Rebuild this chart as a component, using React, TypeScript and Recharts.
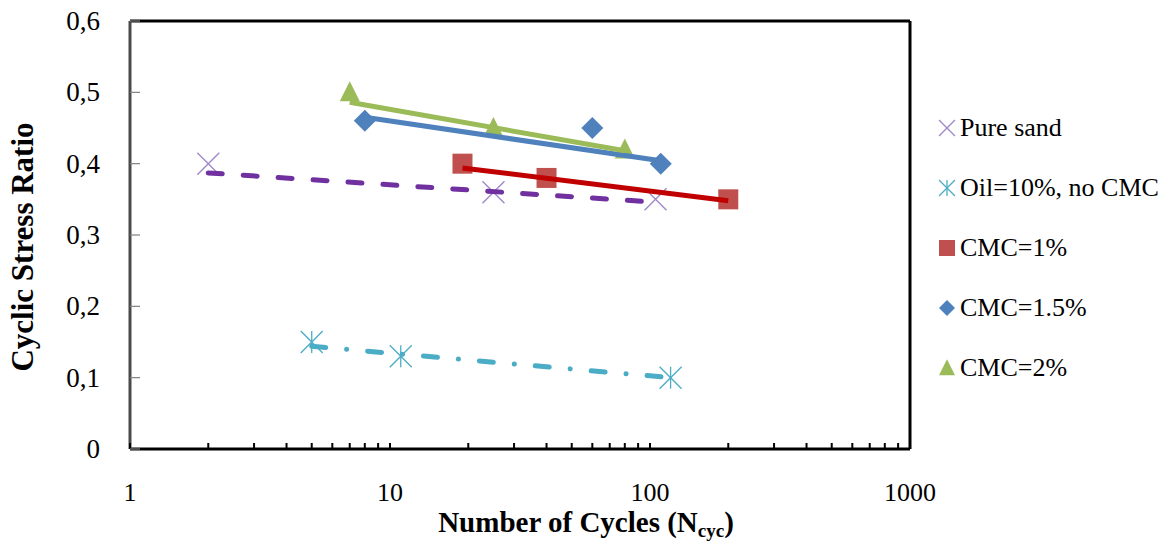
import React from 'react';
import { ScatterChart, Scatter, XAxis, YAxis, ReferenceLine, Label } from 'recharts';

const pureSand = [
  { x: 2, y: 0.4 },
  { x: 25, y: 0.36 },
  { x: 105, y: 0.35 },
];
const oil10 = [
  { x: 5, y: 0.15 },
  { x: 11, y: 0.13 },
  { x: 120, y: 0.1 },
];
const cmc1 = [
  { x: 19, y: 0.4 },
  { x: 40, y: 0.38 },
  { x: 200, y: 0.35 },
];
const cmc15 = [
  { x: 8, y: 0.46 },
  { x: 60, y: 0.45 },
  { x: 110, y: 0.4 },
];
const cmc2 = [
  { x: 7, y: 0.5 },
  { x: 25, y: 0.45 },
  { x: 80, y: 0.42 },
];

// trend line end points
const pureSandTrend = [
  { x: 2, y: 0.387 },
  { x: 105, y: 0.346 },
];
const oil10Trend = [
  { x: 5, y: 0.144 },
  { x: 120, y: 0.1 },
];
const cmc1Trend = [
  { x: 19, y: 0.394 },
  { x: 200, y: 0.348 },
];
const cmc15Trend = [
  { x: 8, y: 0.465 },
  { x: 110, y: 0.404 },
];
const cmc2Trend = [
  { x: 7, y: 0.486 },
  { x: 80, y: 0.418 },
];

const majorTicks = [1, 10, 100, 1000];
const xTicks = [
  1, 2, 3, 4, 5, 6, 7, 8, 9,
  10, 20, 30, 40, 50, 60, 70, 80, 90,
  100, 200, 300, 400, 500, 600, 700, 800, 900, 1000,
];
const yTicks = [0, 0.1, 0.2, 0.3, 0.4, 0.5, 0.6];

const legendNames = ['Pure sand', 'Oil=10%, no CMC', 'CMC=1%', 'CMC=1.5%', 'CMC=2%'];

const FONT = "'Liberation Serif', 'Times New Roman', serif";

const C_PURE = '#9e86c8';
const C_OIL = '#4bacc6';
const C_RED = '#c0504d';
const C_BLUE = '#4f81bd';
const C_GREEN = '#9bbb59';

const XMark = ({ cx, cy, s = 22 }: any) => (
  <g stroke={C_PURE} strokeWidth={1.3}>
    <line x1={cx - s / 2} y1={cy - s / 2} x2={cx + s / 2} y2={cy + s / 2} />
    <line x1={cx - s / 2} y1={cy + s / 2} x2={cx + s / 2} y2={cy - s / 2} />
  </g>
);

const StarMark = ({ cx, cy, s = 22 }: any) => (
  <g stroke={C_OIL} strokeWidth={1.3}>
    <line x1={cx} y1={cy - s / 2} x2={cx} y2={cy + s / 2} />
    <line x1={cx - s / 2} y1={cy - s / 2} x2={cx + s / 2} y2={cy + s / 2} />
    <line x1={cx - s / 2} y1={cy + s / 2} x2={cx + s / 2} y2={cy - s / 2} />
  </g>
);

const SquareMark = ({ cx, cy, s = 20 }: any) => (
  <rect x={cx - s / 2} y={cy - s / 2} width={s} height={s} fill={C_RED} />
);

const DiamondMark = ({ cx, cy, s = 11 }: any) => (
  <polygon points={`${cx},${cy - s} ${cx + s},${cy} ${cx},${cy + s} ${cx - s},${cy}`} fill={C_BLUE} />
);

const TriangleMark = ({ cx, cy, s = 20 }: any) => (
  <polygon
    points={`${cx},${cy - s * 0.55} ${cx + s / 2},${cy + s * 0.45} ${cx - s / 2},${cy + s * 0.45}`}
    fill={C_GREEN}
  />
);

const legendMarks = [XMark, StarMark, SquareMark, DiamondMark, TriangleMark];

const NoDot = () => <g />;

const XTick = ({ x, y, payload }: any) => (
  <g>
    <line x1={x} y1={y} x2={x} y2={y - 6} stroke="#000" strokeWidth={2} />
    {majorTicks.includes(payload.value) && (
      <text x={x} y={y + 52} textAnchor="middle" fontFamily={FONT} fontSize={26} fill="#000">
        {payload.value}
      </text>
    )}
  </g>
);

const YTick = ({ x, y, payload }: any) => (
  <g>
    <line x1={x} y1={y} x2={x + 10} y2={y} stroke="#808080" strokeWidth={1.2} />
    <text x={x - 30} y={y + 9} textAnchor="end" fontFamily={FONT} fontSize={27} fill="#000">
      {String(payload.value).replace('.', ',')}
    </text>
  </g>
);

const App = () => {
  return (
    <div style={{ position: 'absolute', left: 0, top: 0, width: 1170, height: 547, background: '#fff' }}>
      <ScatterChart width={1170} height={547} margin={{ top: 21, right: 260, bottom: 0, left: 0 }}>
        <XAxis
          dataKey="x"
          type="number"
          scale="log"
          domain={[1, 1000]}
          ticks={xTicks}
          interval={0}
          allowDataOverflow
          height={98}
          tickSize={0}
          tickMargin={0}
          tickLine={false}
          tick={<XTick />}
          axisLine={{ stroke: '#000', strokeWidth: 3 }}
        >
          <Label
            content={({ viewBox }: any) => (
              <text
                x={viewBox.x + 456}
                y={viewBox.y + 83}
                textAnchor="middle"
                fontFamily={FONT}
                fontSize={29}
                fontWeight="bold"
                fill="#000"
              >
                Number of Cycles (N
                <tspan fontSize={19} dy={5}>cyc</tspan>
                <tspan dy={-5}>)</tspan>
              </text>
            )}
          />
        </XAxis>
        <YAxis
          dataKey="y"
          type="number"
          domain={[0, 0.6]}
          ticks={yTicks}
          interval={0}
          width={130}
          tickSize={0}
          tickMargin={0}
          tickLine={false}
          tick={<YTick />}
          axisLine={{ stroke: '#4a4a4a', strokeWidth: 3 }}
        >
          <Label
            content={({ viewBox }: any) => (
              <text
                x={viewBox.x + 33}
                y={247}
                transform={`rotate(-90, ${viewBox.x + 33}, 247)`}
                textAnchor="middle"
                fontFamily={FONT}
                fontSize={31}
                fontWeight="bold"
                fill="#000"
              >
                Cyclic Stress Ratio
              </text>
            )}
          />
        </YAxis>
        <ReferenceLine y={0.6} stroke="#000" strokeWidth={3} />
        <ReferenceLine x={1000} stroke="#000" strokeWidth={3} />

        <Scatter data={pureSand} shape={<XMark />} isAnimationActive={false} />
        <Scatter data={oil10} shape={<StarMark />} isAnimationActive={false} />
        <Scatter data={cmc1} shape={<SquareMark />} isAnimationActive={false} />
        <Scatter data={cmc15} shape={<DiamondMark />} isAnimationActive={false} />
        <Scatter data={cmc2} shape={<TriangleMark />} isAnimationActive={false} />

        <Scatter
          data={pureSandTrend}
          shape={NoDot}
          line={{ stroke: '#7030a0', strokeWidth: 5, strokeDasharray: '14 21', strokeLinecap: 'round' }}
          isAnimationActive={false}
        />
        <Scatter
          data={oil10Trend}
          shape={NoDot}
          line={{ stroke: C_OIL, strokeWidth: 5, strokeDasharray: '14 21 0.1 21', strokeLinecap: 'round' }}
          isAnimationActive={false}
        />
        <Scatter
          data={cmc1Trend}
          shape={NoDot}
          line={{ stroke: '#c00000', strokeWidth: 5 }}
          isAnimationActive={false}
        />
        <Scatter
          data={cmc15Trend}
          shape={NoDot}
          line={{ stroke: C_BLUE, strokeWidth: 5 }}
          isAnimationActive={false}
        />
        <Scatter
          data={cmc2Trend}
          shape={NoDot}
          line={{ stroke: C_GREEN, strokeWidth: 5 }}
          isAnimationActive={false}
        />
      </ScatterChart>

      {/* legend */}
      <div style={{ position: 'absolute', left: 936, top: 98, fontFamily: FONT, fontSize: 26, color: '#000' }}>
        {legendNames.map((name, i) => {
          const Mark = legendMarks[i];
          return (
            <div key={name} style={{ display: 'flex', alignItems: 'center', height: 60, whiteSpace: 'nowrap' }}>
              <svg width={22} height={22} style={{ marginRight: 2 }}>
                <Mark cx={11} cy={11} s={i === 3 ? 8 : 16} />
              </svg>
              <span>{name}</span>
            </div>
          );
        })}
      </div>
    </div>
  );
};

export default App;
